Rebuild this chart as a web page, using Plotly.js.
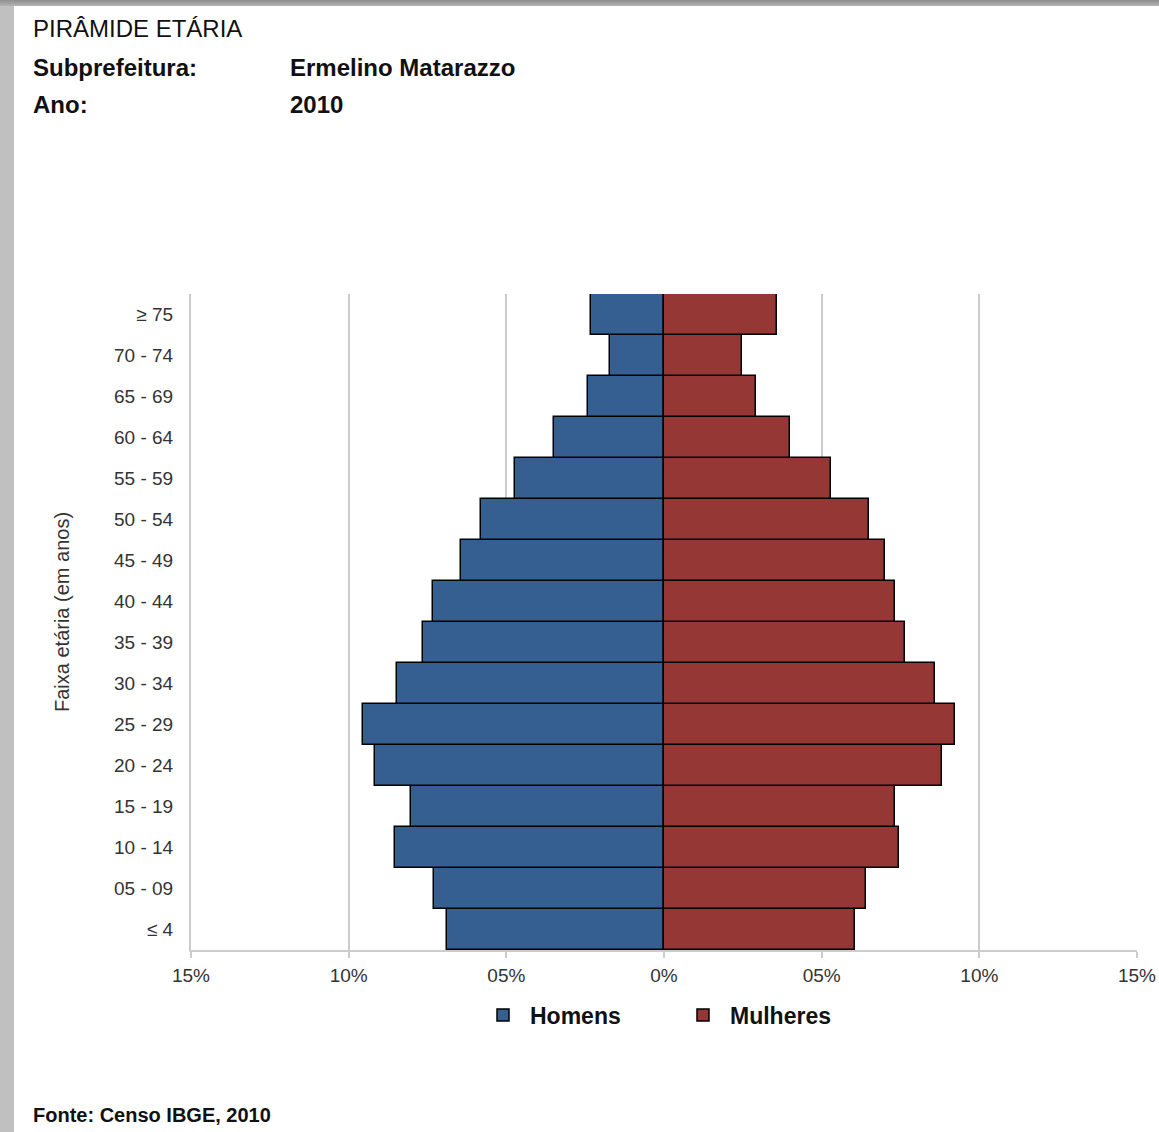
<!DOCTYPE html>
<html>
<head>
<meta charset="utf-8">
<script src="https://cdn.plot.ly/plotly-3.0.1.min.js"></script>
<style>
  html, body { margin: 0; padding: 0; background: #ffffff; }
  #wrap { position: relative; width: 1159px; height: 1132px; overflow: hidden; }
  #chart { position: absolute; left: 0; top: 0; width: 1159px; height: 1132px; }
  #stripTop { position: absolute; left: 0; top: 0; width: 1159px; height: 6px;
    background: linear-gradient(to bottom, #8e8e8e, #b4b4b4); pointer-events: none; }
  #stripLeft { position: absolute; left: 0; top: 0; width: 14px; height: 1132px;
    background: #c0c0c0; pointer-events: none; }
</style>
</head>
<body>
<div id="wrap">
  <div id="chart"></div>
  <div id="stripLeft"></div>
  <div id="stripTop"></div>
</div>
<script>
// ---- data (percent of population) ----
var ageGroups = ["≤ 4", "05 - 09", "10 - 14", "15 - 19", "20 - 24", "25 - 29", "30 - 34",
                 "35 - 39", "40 - 44", "45 - 49", "50 - 54", "55 - 59", "60 - 64",
                 "65 - 69", "70 - 74", "≥ 75"];
var homens   = [6.87, 7.30, 8.52, 8.02, 9.16, 9.53, 8.46, 7.63, 7.31, 6.43, 5.79, 4.71, 3.50, 2.41, 1.72, 2.30];
var mulheres = [6.05, 6.41, 7.45, 7.32, 8.83, 9.23, 8.59, 7.63, 7.32, 7.00, 6.50, 5.29, 4.00, 2.92, 2.48, 3.57];
var xTickVals = [-15, -10, -5, 0, 5, 10, 15];
var xTickText = ["15%", "10%", "05%", "0%", "05%", "10%", "15%"];

var W = 1159, H = 1132;
var M = {l: 191, r: 22, t: 294, b: 182};
var PW = W - M.l - M.r, PH = H - M.t - M.b;
function px(x) { return (x - M.l) / PW; }
function py(y) { return (H - M.b - y) / PH; }

var FONT = "Liberation Sans, Arial, sans-serif";

var traces = [
  {
    type: "bar", orientation: "h", name: "Homens",
    y: ageGroups, x: homens.map(function (v) { return -v; }),
    customdata: homens,
    hovertemplate: "%{y}: %{customdata}%<extra>Homens</extra>",
    marker: {color: "#365f91", line: {color: "#000000", width: 1.5}}
  },
  {
    type: "bar", orientation: "h", name: "Mulheres",
    y: ageGroups, x: mulheres,
    hovertemplate: "%{y}: %{x}%<extra>Mulheres</extra>",
    marker: {color: "#953735", line: {color: "#000000", width: 1.5}}
  }
];

var layout = {
  width: W, height: H,
  margin: M,
  paper_bgcolor: "#ffffff", plot_bgcolor: "#ffffff",
  font: {family: FONT, color: "#333333"},
  barmode: "relative", bargap: 0,
  showlegend: true,
  legend: {
    orientation: "h", x: px(676), xanchor: "center", y: py(1015), yanchor: "middle",
    font: {family: FONT, size: 23, color: "#111111", weight: "bold"},
    itemwidth: 44,
    entrywidth: 141, entrywidthmode: "pixels", itemclick: false
  },
  xaxis: {
    range: [-15, 15], fixedrange: true,
    tickvals: xTickVals, ticktext: xTickText,
    tickfont: {family: FONT, size: 19, color: "#333333"},
    showgrid: true, gridcolor: "#cccccc", gridwidth: 2,
    zeroline: false,
    showline: true, linecolor: "#cccccc", linewidth: 2,
    ticks: "outside", ticklen: 6, tickcolor: "#cccccc", tickwidth: 2,
    ticklabelstandoff: 1
  },
  yaxis: {
    type: "category", fixedrange: true,
    tickfont: {family: FONT, size: 19, color: "#333333"},
    showgrid: false, zeroline: false,
    showline: true, linecolor: "#cccccc", linewidth: 2,
    ticks: "", ticklabelstandoff: 12
  },
  annotations: [
    {xref: "paper", yref: "paper", x: px(62), y: py(612), xanchor: "center", yanchor: "middle",
     text: "Faixa etária (em anos)", showarrow: false, textangle: -90,
     font: {family: FONT, size: 20, color: "#333333"}},
    {xref: "paper", yref: "paper", x: px(31), y: py(28), xanchor: "left", yanchor: "middle",
     text: "PIRÂMIDE ETÁRIA", showarrow: false,
     font: {family: FONT, size: 24, color: "#111111"}},
    {xref: "paper", yref: "paper", x: px(31), y: py(67), xanchor: "left", yanchor: "middle",
     text: "Subprefeitura:", showarrow: false,
     font: {family: FONT, size: 24, color: "#111111", weight: "bold"}},
    {xref: "paper", yref: "paper", x: px(288), y: py(67), xanchor: "left", yanchor: "middle",
     text: "Ermelino Matarazzo", showarrow: false,
     font: {family: FONT, size: 24, color: "#111111", weight: "bold"}},
    {xref: "paper", yref: "paper", x: px(31), y: py(104), xanchor: "left", yanchor: "middle",
     text: "Ano:", showarrow: false,
     font: {family: FONT, size: 24, color: "#111111", weight: "bold"}},
    {xref: "paper", yref: "paper", x: px(288), y: py(104), xanchor: "left", yanchor: "middle",
     text: "2010", showarrow: false,
     font: {family: FONT, size: 24, color: "#111111", weight: "bold"}},
    {xref: "paper", yref: "paper", x: px(31), y: py(1115), xanchor: "left", yanchor: "middle",
     text: "Fonte: Censo IBGE, 2010", showarrow: false,
     font: {family: FONT, size: 20, color: "#111111", weight: "bold"}}
  ]
};

Plotly.newPlot("chart", traces, layout, {displayModeBar: false});
</script>
</body>
</html>
